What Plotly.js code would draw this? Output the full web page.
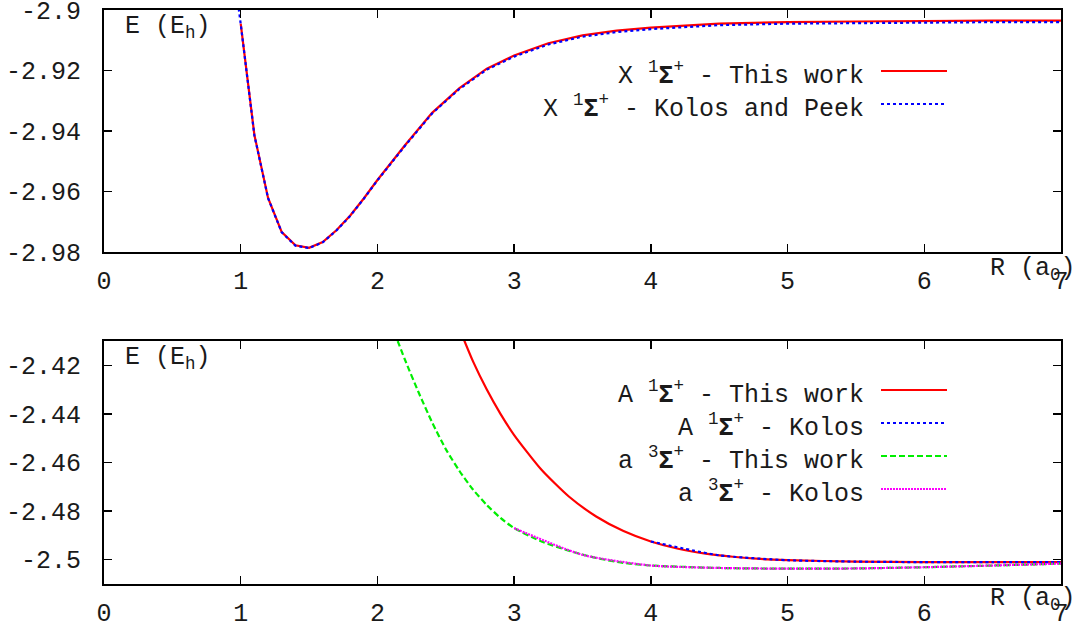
<!DOCTYPE html>
<html>
<head>
<meta charset="utf-8">
<script src="https://cdn.plot.ly/plotly-3.0.1.min.js"></script>
<style>
  html, body { margin: 0; padding: 0; background: #fff; }
  #chart { width: 1084px; height: 628px; }
</style>
</head>
<body>
<div id="chart"></div>
<script>
// === Data ===
// Top panel: X 1Sigma+ state
const rXThis = [1.0, 1.1, 1.2, 1.3, 1.4, 1.5, 1.6, 1.7, 1.8, 1.9, 2.0, 2.2, 2.4, 2.6, 2.8, 3.0, 3.25, 3.5, 3.75, 4.0, 4.5, 5.0, 5.5, 6.0, 6.5, 7.0];
const eXThis = [-2.9045, -2.9413, -2.9621, -2.9734, -2.9778, -2.9786, -2.9767, -2.9728, -2.9680, -2.9623, -2.9562, -2.9448, -2.9340, -2.9258, -2.9194, -2.9150, -2.9110, -2.9084, -2.9068, -2.9058, -2.9045, -2.9040, -2.9038, -2.9036, -2.9035, -2.9035];

const rXKP = [0.9, 1.0, 1.1, 1.2, 1.3, 1.4, 1.5, 1.6, 1.7, 1.8, 1.9, 2.0, 2.2, 2.4, 2.6, 2.8, 3.0, 3.25, 3.5, 3.75, 4.0, 4.5, 5.0, 5.5, 6.0, 6.5, 7.0];
const eXKP = [-2.8700, -2.9046, -2.9414, -2.9622, -2.9735, -2.9779, -2.9787, -2.9768, -2.9729, -2.9681, -2.9624, -2.9563, -2.9450, -2.9342, -2.9261, -2.9197, -2.9154, -2.9114, -2.9088, -2.9073, -2.9063, -2.9050, -2.9045, -2.9043, -2.9041, -2.9040, -2.9040];

// Bottom panel: A 1Sigma+ and a 3Sigma+ states
const rAThis = [2.6, 2.7, 2.8, 2.9, 3.0, 3.2, 3.4, 3.6, 3.8, 4.0, 4.2, 4.4, 4.6, 4.8, 5.0, 5.5, 6.0, 6.5, 7.0];
const eAThis = [-2.4050, -2.4185, -2.4300, -2.4400, -2.4487, -2.4630, -2.4740, -2.4822, -2.4882, -2.4925, -2.4955, -2.4975, -2.4988, -2.4997, -2.5002, -2.5008, -2.5010, -2.5010, -2.5010];

const rAKolos = [4.0, 4.5, 5.0, 5.5, 6.0, 6.5, 7.0];
const eAKolos = [-2.4925, -2.4982, -2.5002, -2.5008, -2.5010, -2.5010, -2.5010];

const rTThis = [2.1, 2.2, 2.3, 2.4, 2.5, 2.6, 2.7, 2.8, 2.9, 3.0, 3.2, 3.4, 3.6, 3.8, 4.0, 4.5, 5.0, 5.5, 6.0, 6.5, 7.0];
const eTThis = [-2.4030, -2.4175, -2.4310, -2.4435, -2.4545, -2.4635, -2.4712, -2.4775, -2.4828, -2.4870, -2.4925, -2.4963, -2.4993, -2.5013, -2.5024, -2.5034, -2.5037, -2.5036, -2.5031, -2.5024, -2.5016];

const rTKolos = [3.0, 3.5, 4.0, 4.5, 5.0, 5.5, 6.0, 6.5, 7.0];
const eTKolos = [-2.4870, -2.4980, -2.5024, -2.5034, -2.5037, -2.5036, -2.5031, -2.5024, -2.5016];

const xTicks = [0, 1, 2, 3, 4, 5, 6, 7];
const yTopTicks = [-2.98, -2.96, -2.94, -2.92, -2.9];
const yTopText = ['-2.98', '-2.96', '-2.94', '-2.92', '-2.9'];
const yBotTicks = [-2.5, -2.48, -2.46, -2.44, -2.42];
const yBotText = ['-2.5', '-2.48', '-2.46', '-2.44', '-2.42'];

const topNames = ['X <sup>1</sup><b>Σ</b><sup>+</sup> - This work', 'X <sup>1</sup><b>Σ</b><sup>+</sup> - Kolos and Peek'];
const botNames = ['A <sup>1</sup><b>Σ</b><sup>+</sup> - This work', 'A <sup>1</sup><b>Σ</b><sup>+</sup> - Kolos',
                  'a <sup>3</sup><b>Σ</b><sup>+</sup> - This work', 'a <sup>3</sup><b>Σ</b><sup>+</sup> - Kolos'];

// === Page geometry (pixels) ===
const W = 1084, H = 628;
const px = x => x / W;
const py = y => 1 - y / H;
const FONT = { family: 'Liberation Mono, Courier New, monospace', size: 25, color: '#1a1a1a' };

const RED = { color: '#ff0000', width: 2.2, dash: 'solid' };
const BLUE = { color: '#0000ff', width: 2.2, dash: 'dot' };
const GREEN = { color: '#00ee00', width: 2.2, dash: '6px,3px' };
const MAGENTA = { color: '#ff00ff', width: 2.2, dash: '2px,1px' };

const traces = [
    { x: rXThis, y: eXThis, name: topNames[0], xaxis: 'x', yaxis: 'y', mode: 'lines', line: RED },
    { x: rXKP, y: eXKP, name: topNames[1], xaxis: 'x', yaxis: 'y', mode: 'lines', line: BLUE },
    { x: rAThis, y: eAThis, name: botNames[0], xaxis: 'x2', yaxis: 'y2', mode: 'lines', line: { ...RED, shape: 'spline', smoothing: 0.6 } },
    { x: rAKolos, y: eAKolos, name: botNames[1], xaxis: 'x2', yaxis: 'y2', mode: 'lines', line: { ...BLUE, shape: 'spline', smoothing: 0.6 } },
    { x: rTThis, y: eTThis, name: botNames[2], xaxis: 'x2', yaxis: 'y2', mode: 'lines', line: { ...GREEN, shape: 'spline', smoothing: 0.6 } },
    { x: rTKolos, y: eTKolos, name: botNames[3], xaxis: 'x2', yaxis: 'y2', mode: 'lines', line: { ...MAGENTA, shape: 'spline', smoothing: 0.6 } }
];

// gnuplot-style key: right-aligned text, line sample to its right
const annotations = [];
const shapes = [];
function addKey(list, firstRowY) {
    list.forEach((t, i) => {
        const y = firstRowY + i * 33;
        annotations.push({
            xref: 'paper', yref: 'paper', x: px(866), y: py(y + 3),
            xanchor: 'right', yanchor: 'middle', showarrow: false,
            text: t.name, font: FONT
        });
        shapes.push({
            type: 'line', xref: 'paper', yref: 'paper',
            x0: px(881), x1: px(947), y0: py(y), y1: py(y),
            line: { color: t.line.color, width: t.line.width, dash: t.line.dash }
        });
    });
}
addKey(traces.slice(0, 2), 71);
addKey(traces.slice(2), 390);

// axis labels drawn inside the frame, as in the original
[[28, 269], [358, 599]].forEach(([ey, ry]) => {
    annotations.push({ xref: 'paper', yref: 'paper', x: px(123), y: py(ey), xanchor: 'left', yanchor: 'middle',
        showarrow: false, text: 'E (E<sub>h</sub>)', font: FONT });
    annotations.push({ xref: 'paper', yref: 'paper', x: px(1078), y: py(ry), xanchor: 'right', yanchor: 'middle',
        showarrow: false, text: 'R (a<sub>0</sub>)', font: FONT });
});

const xAxisBase = {
    range: [0, 7], tickvals: xTicks, ticktext: xTicks.map(String),
    showgrid: false, zeroline: false, showline: true, mirror: 'ticks',
    linecolor: '#000', linewidth: 2, ticks: 'inside', ticklen: 8, tickwidth: 1.5, tickcolor: '#000',
    ticklabelstandoff: 5, ticklabeloverflow: 'allow', tickfont: FONT
};
const yAxisBase = {
    showgrid: false, zeroline: false, showline: true, mirror: 'ticks',
    linecolor: '#000', linewidth: 2, ticks: 'inside', ticklen: 8, tickwidth: 1.5, tickcolor: '#000',
    ticklabelstandoff: 16, ticklabeloverflow: 'allow', tickfont: FONT
};

const layout = {
    width: W, height: H,
    margin: { l: 0, r: 0, t: 0, b: 0 },
    paper_bgcolor: '#fff', plot_bgcolor: '#fff',
    showlegend: false,
    xaxis: { ...xAxisBase, domain: [px(104), px(1061)], anchor: 'y' },
    yaxis: { ...yAxisBase, domain: [py(252), py(10)], range: [-2.98, -2.89999], tickvals: yTopTicks, ticktext: yTopText, anchor: 'x' },
    xaxis2: { ...xAxisBase, domain: [px(104), px(1061)], anchor: 'y2' },
    yaxis2: { ...yAxisBase, domain: [py(584), py(341)], range: [-2.51, -2.41], tickvals: yBotTicks, ticktext: yBotText, anchor: 'x2' },
    annotations: annotations,
    shapes: shapes
};

Plotly.newPlot('chart', traces, layout, { staticPlot: true, displayModeBar: false });
</script>
</body>
</html>
